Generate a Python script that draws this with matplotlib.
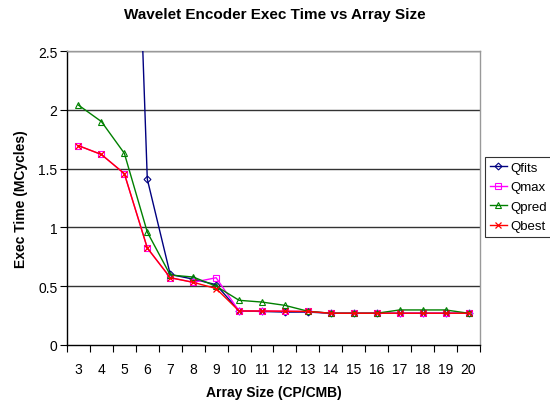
import matplotlib
matplotlib.use("Agg")
import matplotlib.pyplot as plt
import numpy as np

plt.rcParams['font.family'] = ['Liberation Sans', 'DejaVu Sans']

categories = [str(i) for i in range(3, 21)]
qfits = [12.0, 10.0, 7.0, 1.41, 0.60, 0.56, 0.513, 0.29, 0.285, 0.28, 0.28, 0.27, 0.27, 0.27, 0.27, 0.27, 0.27, 0.27]
qmax = [1.695, 1.62, 1.457, 0.825, 0.572, 0.533, 0.572, 0.289, 0.289, 0.287, 0.285, 0.27, 0.27, 0.27, 0.27, 0.27, 0.27, 0.27]
qpred = [2.04, 1.90, 1.63, 0.96, 0.595, 0.578, 0.50, 0.38, 0.365, 0.337, 0.287, 0.27, 0.27, 0.27, 0.298, 0.298, 0.298, 0.27]
qbest = [1.695, 1.62, 1.457, 0.825, 0.572, 0.533, 0.48, 0.289, 0.289, 0.287, 0.285, 0.27, 0.27, 0.27, 0.27, 0.27, 0.27, 0.27]
yticks = [0, 0.5, 1, 1.5, 2, 2.5]
ytick_labels = ["0", "0.5", "1", "1.5", "2", "2.5"]

fig = plt.figure(figsize=(5.5, 4.06), dpi=100)
ax = fig.add_axes([0.1218, 0.1478, 0.7509, 0.7241])
x = np.arange(len(categories))

ax.plot(x, qfits, color='#000080', marker='D', markersize=3.5, markerfacecolor='none',
        markeredgewidth=0.8, linewidth=1.0, label='Qfits', zorder=3)
ax.plot(x, qmax, color='#FF00FF', marker='s', markersize=4.5, markerfacecolor='none',
        markeredgewidth=0.8, linewidth=1.0, label='Qmax', zorder=3)
ax.plot(x, qpred, color='#008000', marker='^', markersize=4.5, markerfacecolor='none',
        markeredgewidth=0.8, linewidth=1.0, label='Qpred', zorder=3)
ax.plot(x, qbest, color='#FF0000', marker='x', markersize=4, markeredgewidth=0.9,
        linewidth=1.0, label='Qbest', zorder=4)

ax.set_xlim(-0.5, len(categories) - 0.5)
ax.set_ylim(0, 2.5)
ax.set_yticks(yticks)
ax.set_yticklabels(ytick_labels, fontsize=10)
ax.set_xticks(x)
ax.set_xticklabels(categories, fontsize=10)
ax.set_xticks(np.arange(-0.5, len(categories), 1.0), minor=True)
ax.tick_params(axis='x', which='major', length=0, pad=12)
ax.tick_params(axis='x', which='minor', length=5, width=0.8, color='black', direction='out')
ax.tick_params(axis='y', which='major', length=5, width=0.8, direction='out', pad=2)

for yv in yticks[1:]:
    ax.axhline(yv, color='#333333', linewidth=1.0, zorder=1)

for side in ['top', 'right']:
    ax.spines[side].set_color('#999999')
    ax.spines[side].set_linewidth(1.0)
for side in ['left', 'bottom']:
    ax.spines[side].set_color('black')
    ax.spines[side].set_linewidth(1.0)

ax.set_xlabel('Array Size (CP/CMB)', fontsize=10, fontweight='bold', labelpad=7)
ax.set_ylabel('Exec Time (MCycles)', fontsize=10, fontweight='bold', labelpad=7)
fig.text(0.5, 0.962, 'Wavelet Encoder Exec Time vs Array Size', ha='center', va='center',
         fontsize=11, fontweight='bold')

leg = ax.legend(loc='upper left', bbox_to_anchor=(1.012, 0.64), frameon=True, fancybox=False,
                edgecolor='black', fontsize=9.5, handlelength=1.3, handletextpad=0.25,
                borderpad=0.35, labelspacing=0.55, borderaxespad=0)
leg.get_frame().set_linewidth(0.8)

fig.savefig('out.png', dpi=100)
